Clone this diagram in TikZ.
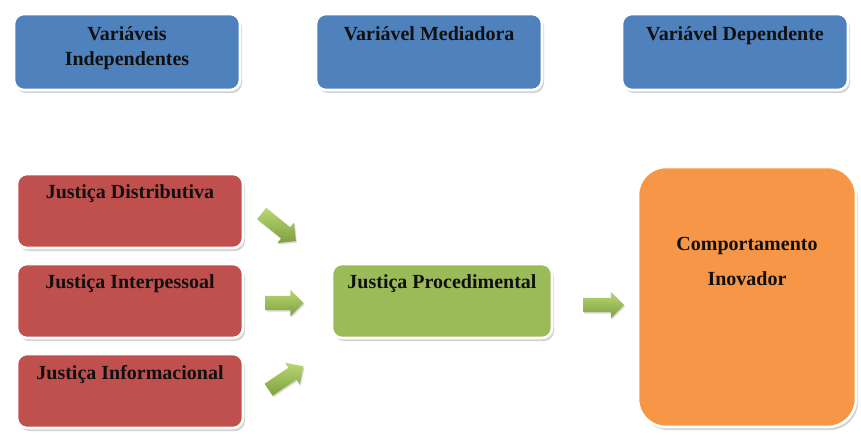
\documentclass[tikz,border=0pt]{standalone}
\usepackage{fontspec}
\setmainfont{Liberation Serif}
\usetikzlibrary{positioning,shapes.arrows,shadows}
\definecolor{Ink}{HTML}{101010}
\definecolor{VarBlue}{HTML}{4F81BD}
\definecolor{JustRed}{HTML}{C0504D}
\definecolor{ProcGreen}{HTML}{9BBB59}
\definecolor{InovOrange}{HTML}{F79646}
\definecolor{ArrLight}{HTML}{B9D774}
\definecolor{ArrDark}{HTML}{7FA03E}

\begin{document}
\begin{tikzpicture}[x=1pt,y=-1pt,
  box/.style={rounded corners=10pt,draw=white,line width=2.6pt,inner sep=0pt,
    drop shadow={shadow xshift=2pt,shadow yshift=-3pt,opacity=0.35}},
  smallbox/.style={box,minimum width=226pt,minimum height=76pt},
  lbl/.style={font=\bfseries\fontsize{20}{25}\selectfont,text=Ink,align=center,inner sep=0pt},
  greenarrow/.style={single arrow,single arrow head extend=6pt,inner xsep=0pt,inner ysep=7pt,
    top color=ArrLight,bottom color=ArrDark,draw=none,
    drop shadow={shadow xshift=1pt,shadow yshift=-1.5pt,opacity=0.3}}]
\useasboundingbox (0,0) rectangle (861,434);

% cabecalho
\node[smallbox,fill=VarBlue] (vi) at (127,52) {};
\node[smallbox,fill=VarBlue] (vm) at (429,52) {};
\node[smallbox,fill=VarBlue] (vd) at (735,52) {};
\node[lbl,below=14pt of vi.north] {Variáveis\\Independentes};
\node[lbl,below=14pt of vm.north] {Variável Mediadora};
\node[lbl,below=14pt of vd.north] {Variável Dependente};

% justicas
\node[smallbox,fill=JustRed,minimum height=74pt] (jd) at (130,211) {};
\node[smallbox,fill=JustRed,minimum height=74pt] (ji) at (130,301) {};
\node[smallbox,fill=JustRed,minimum height=74pt] (jf) at (130,391) {};
\node[lbl,below=12pt of jd.north] {Justiça Distributiva};
\node[lbl,below=12pt of ji.north] {Justiça Interpessoal};
\node[lbl,below=13pt of jf.north] {Justiça Informacional};

\node[box,fill=ProcGreen,minimum width=220pt,minimum height=74pt] (jp) at (442,301) {};
\node[lbl,below=12pt of jp.north] {Justiça Procedimental};

\node[box,fill=InovOrange,rounded corners=28pt,minimum width=218pt,minimum height=260pt] (co) at (747,297) {};
\node[lbl,font=\bfseries\fontsize{20}{35}\selectfont,below=71pt of co.north] {Comportamento\\Inovador};

% setas
\node[greenarrow,minimum height=44pt,rotate=-39] (s1) at (276,225) {};
\node[greenarrow,minimum height=38pt] (s2) at (281,303) {};
\node[greenarrow,minimum height=42pt,rotate=34] (s3) at (283,380) {};
\node[greenarrow,minimum height=41pt] (s4) at (600,305) {};
\end{tikzpicture}
\end{document}
